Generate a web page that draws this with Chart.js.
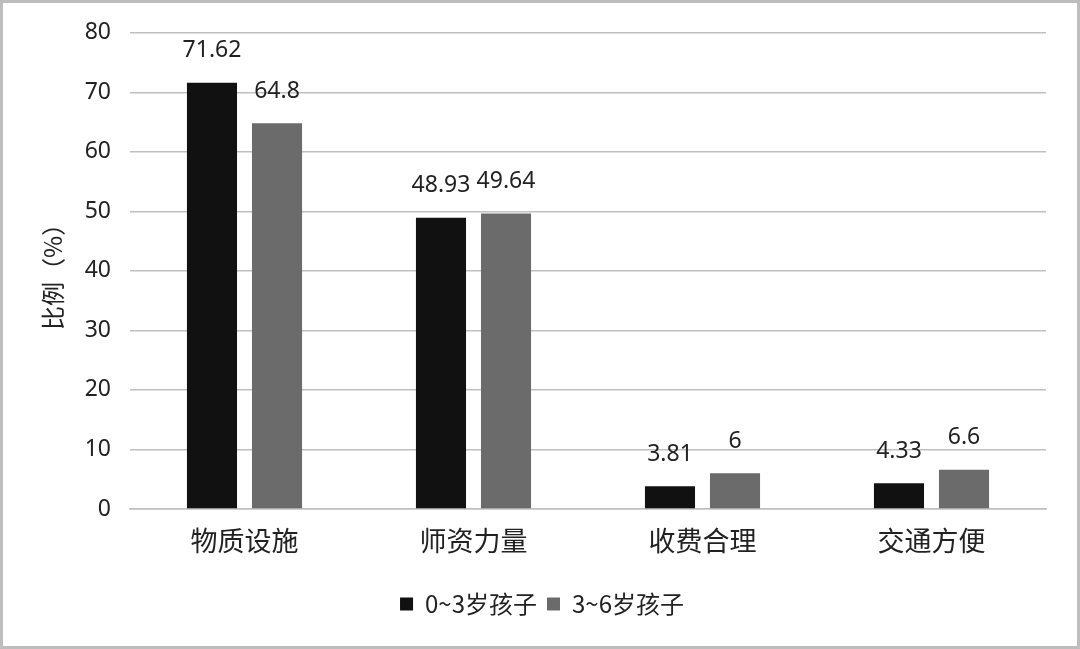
<!DOCTYPE html>
<html>
<head>
<meta charset="utf-8">
<script src="https://cdn.jsdelivr.net/npm/chart.js@4/dist/chart.umd.min.js"></script>
<style>
  html, body { margin: 0; padding: 0; background: #fff; }
  #wrap { position: relative; width: 1080px; height: 649px; }
  #frame { position: absolute; left: 0; top: 0; width: 1080px; height: 649px; box-sizing: border-box; border: 3px solid #bdbdbd; pointer-events: none; }
</style>
</head>
<body>
<div id="wrap">
  <canvas id="chart" width="1080" height="649"></canvas>
  <div id="frame"></div>
</div>
<script>
// data
const categories = ['物质设施', '师资力量', '收费合理', '交通方便'];
const seriesNames = ['0~3岁孩子', '3~6岁孩子'];
const young = [71.62, 48.93, 3.81, 4.33];
const older = [64.8, 49.64, 6, 6.6];
const yTicks = [0, 10, 20, 30, 40, 50, 60, 70, 80];

const numFont = "'Noto Sans', 'Noto Sans CJK SC', sans-serif";
const cjkFont = "'Noto Sans CJK SC', 'Noto Sans', sans-serif";

// values above bars
const valueLabels = {
  id: 'valueLabels',
  afterDatasetsDraw(chart) {
    const ctx = chart.ctx;
    ctx.save();
    ctx.font = '23px ' + numFont;
    ctx.fillStyle = '#222';
    ctx.textAlign = 'center';
    ctx.textBaseline = 'middle';
    chart.data.datasets.forEach((ds, i) => {
      chart.getDatasetMeta(i).data.forEach((bar, j) => {
        ctx.fillText(String(ds.data[j]), bar.x, bar.y - 32);
      });
    });
    ctx.restore();
  }
};

new Chart(document.getElementById('chart'), {
  type: 'bar',
  data: {
    labels: categories,
    datasets: [
      { label: seriesNames[0], data: young, backgroundColor: '#111111' },
      { label: seriesNames[1], data: older, backgroundColor: '#6b6b6b' }
    ]
  },
  options: {
    responsive: false,
    animation: false,
    layout: { padding: { left: 38, right: 34, top: 26, bottom: 23 } },
    datasets: { bar: { categoryPercentage: 0.568, barPercentage: 0.77 } },
    plugins: {
      legend: {
        position: 'bottom',
        labels: {
          boxWidth: 13, boxHeight: 13, padding: 10,
          color: '#222',
          font: { size: 24, family: cjkFont }
        }
      },
      tooltip: { enabled: false }
    },
    scales: {
      x: {
        grid: { display: false, drawTicks: false },
        border: { color: '#bfbfbf', width: 1.5 },
        ticks: { color: '#222', padding: 16, font: { size: 27, family: cjkFont } },
        afterFit(scale) { scale.height = 73; }
      },
      y: {
        min: 0, max: 80,
        afterBuildTicks(scale) { scale.ticks = yTicks.map(v => ({ value: v })); },
        grid: { color: '#c0c0c0', lineWidth: 1.5, drawTicks: false },
        border: { display: false },
        ticks: { color: '#222', padding: 19, font: { size: 23, family: numFont } },
        title: {
          display: true, text: '比例（%）', color: '#222',
          font: { size: 24, family: cjkFont }, padding: 0
        },
        afterFit(scale) { scale.width = 92; }
      }
    }
  },
  plugins: [valueLabels]
});
</script>
</body>
</html>
